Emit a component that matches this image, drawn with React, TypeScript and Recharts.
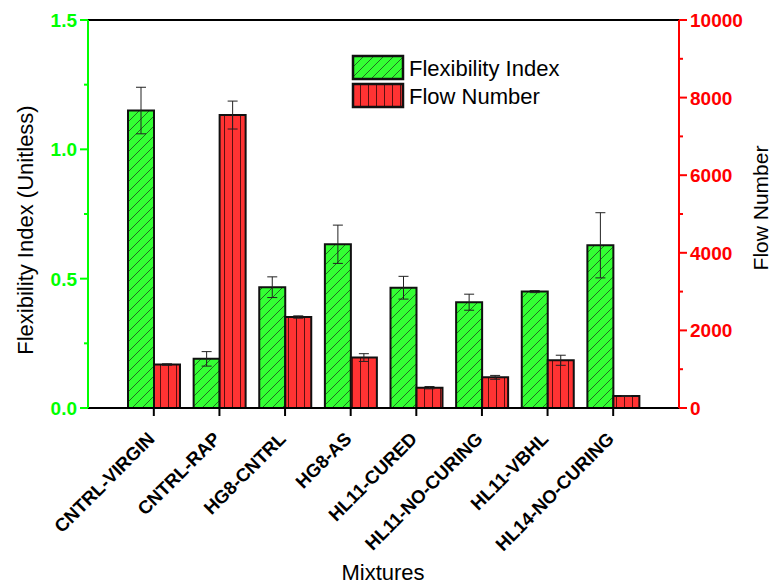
import React from "react";
import { BarChart, Bar, XAxis, YAxis, ErrorBar, ReferenceLine } from "recharts";

const mixtures = [
  "CNTRL-VIRGIN",
  "CNTRL-RAP",
  "HG8-CNTRL",
  "HG8-AS",
  "HL11-CURED",
  "HL11-NO-CURING",
  "HL11-VBHL",
  "HL14-NO-CURING",
];
const flexibilityIndex = [1.15, 0.19, 0.467, 0.633, 0.465, 0.409, 0.45, 0.629];
const flexibilityErr = [0.09, 0.028, 0.04, 0.074, 0.044, 0.031, 0.004, 0.126];
const flowNumber = [1120, 7550, 2345, 1300, 524, 790, 1230, 310];
const flowErr = [20, 360, 30, 100, 30, 50, 130, 10];

const leftTicks = [0, 0.25, 0.5, 0.75, 1, 1.25, 1.5];
const rightTicks = [0, 1000, 2000, 3000, 4000, 5000, 6000, 7000, 8000, 9000, 10000];

const data = mixtures.map((name, i) => ({
  name,
  flex: flexibilityIndex[i],
  flexErr: flexibilityErr[i],
  flow: flowNumber[i],
  flowErr: flowErr[i],
}));

const FONT = "'Liberation Sans', Arial, sans-serif";
const GREEN = "#00ff00";
const RED = "#ff0000";

function LeftTick(props: any) {
  const { x, y, payload } = props;
  const major = payload.value % 0.5 === 0;
  return (
    <g>
      <line x1={x} x2={x - (major ? 8 : 4)} y1={y} y2={y} stroke={GREEN} strokeWidth={2} />
      {major && (
        <text x={x - 11} y={y} dy={7} textAnchor="end" fill={GREEN} fontSize={19} fontWeight="bold" fontFamily={FONT}>
          {payload.value.toFixed(1)}
        </text>
      )}
    </g>
  );
}

function RightTick(props: any) {
  const { x, y, payload } = props;
  const major = payload.value % 2000 === 0;
  return (
    <g>
      <line x1={x} x2={x + (major ? 8 : 4)} y1={y} y2={y} stroke={RED} strokeWidth={2} />
      {major && (
        <text x={x + 11} y={y} dy={7} textAnchor="start" fill={RED} fontSize={19} fontWeight="bold" fontFamily={FONT}>
          {payload.value}
        </text>
      )}
    </g>
  );
}

function MixTick(props: any) {
  const { x, y, payload } = props;
  const ax = x + 2;
  const ay = y + 22;
  return (
    <text
      x={ax}
      y={ay}
      textAnchor="end"
      transform={`rotate(-45, ${ax}, ${ay})`}
      fill="#000"
      fontSize={18.5}
      fontWeight="bold"
      fontFamily={FONT}
    >
      {payload.value}
    </text>
  );
}

function Patterns({ prefix }: { prefix: string }) {
  return (
    <defs>
      <pattern id={`${prefix}green`} patternUnits="userSpaceOnUse" width={10} height={10}>
        <rect width={10} height={10} fill="#33ff33" />
        <path d="M0,10 L10,0 M-2,2 L2,-2 M8,12 L12,8" stroke="#1d4a1d" strokeWidth={0.8} />
      </pattern>
      <pattern id={`${prefix}red`} patternUnits="userSpaceOnUse" width={8} height={8}>
        <rect width={8} height={8} fill="#ff3333" />
        <path d="M0.5,0 L0.5,8" stroke="#5a0f0f" strokeWidth={1} />
      </pattern>
    </defs>
  );
}

export default function App() {
  return (
    <div style={{ position: "absolute", left: 0, top: 0, width: 774, height: 585, background: "#fff" }}>
      <BarChart
        width={774}
        height={585}
        data={data}
        margin={{ top: 20, right: 25, bottom: 27, left: 28 }}
        barGap={0}
        barSize={26}
      >
        <Patterns prefix="c-" />
        <XAxis
          dataKey="name"
          interval={0}
          height={150}
          padding={{ left: 33, right: 33 }}
          axisLine={{ stroke: "#000", strokeWidth: 2 }}
          tickLine={{ stroke: "#000", strokeWidth: 2 }}
          tickSize={8}
          tickMargin={2}
          tick={<MixTick />}
        />
        <YAxis
          yAxisId="left"
          width={60}
          domain={[0, 1.5]}
          ticks={leftTicks}
          axisLine={{ stroke: GREEN, strokeWidth: 2 }}
          tickLine={false}
          tickSize={0}
          tickMargin={0}
          tick={<LeftTick />}
          allowDataOverflow
        />
        <YAxis
          yAxisId="right"
          orientation="right"
          width={70}
          domain={[0, 10000]}
          ticks={rightTicks}
          axisLine={{ stroke: RED, strokeWidth: 2 }}
          tickLine={false}
          tickSize={0}
          tickMargin={0}
          tick={<RightTick />}
          allowDataOverflow
        />
        <ReferenceLine yAxisId="left" y={1.5} stroke="#000" strokeWidth={2} />
        <Bar
          yAxisId="left"
          dataKey="flex"
          fill="url(#c-green)"
          stroke="#111"
          strokeWidth={2}
          isAnimationActive={false}
        >
          <ErrorBar dataKey="flexErr" width={5} stroke="#222" strokeWidth={1} />
        </Bar>
        <Bar
          yAxisId="right"
          dataKey="flow"
          fill="url(#c-red)"
          stroke="#111"
          strokeWidth={2}
          isAnimationActive={false}
        >
          <ErrorBar dataKey="flowErr" width={5} stroke="#222" strokeWidth={1} />
        </Bar>
      </BarChart>
      <svg
        width={774}
        height={585}
        style={{ position: "absolute", left: 0, top: 0, pointerEvents: "none" }}
        fontFamily={FONT}
      >
        <Patterns prefix="l-" />
        <text x={25} y={230} transform="rotate(-90, 25, 230)" textAnchor="middle" dominantBaseline="central" fontSize={22} fill="#000">
          Flexibility Index (Unitless)
        </text>
        <text x={760} y={208} transform="rotate(-90, 760, 208)" textAnchor="middle" dominantBaseline="central" fontSize={21} fill="#000">
          Flow Number
        </text>
        <text x={383} y={572} textAnchor="middle" dominantBaseline="central" fontSize={22} fill="#000">
          Mixtures
        </text>
        <rect x={353} y={56} width={50} height={23} fill="url(#l-green)" stroke="#111" strokeWidth={2.5} />
        <rect x={353} y={84} width={50} height={23} fill="url(#l-red)" stroke="#111" strokeWidth={2.5} />
        <text x={409} y={68} dominantBaseline="central" fontSize={22} fill="#000">
          Flexibility Index
        </text>
        <text x={409} y={96} dominantBaseline="central" fontSize={22} fill="#000">
          Flow Number
        </text>
      </svg>
    </div>
  );
}
